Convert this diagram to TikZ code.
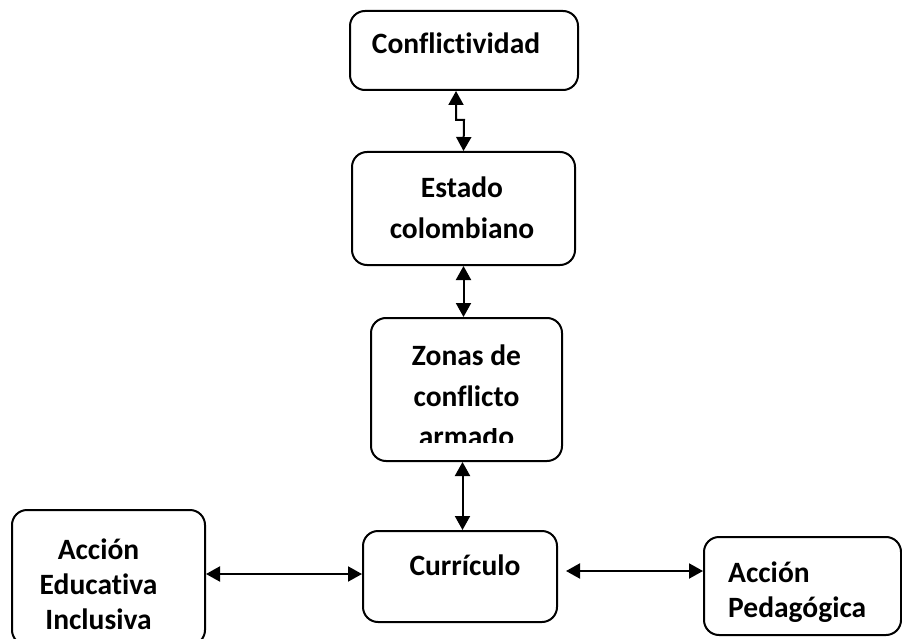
\documentclass[tikz,border=0pt]{standalone}
\usepackage{fontspec}
\setmainfont{Carlito}[Ligatures=NoCommon]
\usetikzlibrary{arrows.meta}
\begin{document}
\begin{tikzpicture}[x=1pt,y=-1pt,
  box/.style={draw=black,line width=2pt,rounded corners=15pt,inner sep=0pt,fill=white},
  txt/.style={font=\fontsize{29.5}{35}\selectfont\bfseries,inner sep=0pt,anchor=base},
  link/.style={line width=2pt,{Triangle[length=14pt,width=15pt]}-{Triangle[length=14pt,width=15pt]}}]
\clip (0,0) rectangle (902,639);
\fill[white] (0,0) rectangle (902,639);
% boxes
\node[box,minimum width=228pt,minimum height=79pt] (conf) at (464,50.5) {};
\node[box,minimum width=223pt,minimum height=113pt] (estado) at (463.5,208.5) {};
\node[box,minimum width=191pt,minimum height=143pt] (zonas) at (466.5,389.5) {};
\node[box,minimum width=194pt,minimum height=91pt] (curr) at (460,576.5) {};
\node[box,minimum width=193pt,minimum height=135pt] (aei) at (108.5,577.5) {};
\node[box,minimum width=197pt,minimum height=98pt] (ap) at (802.5,586) {};
% texts
\node[txt] (t1) at (456,54) {Conflictividad};
\node[txt] (t2) at (462,197) {Estado};
\node[txt] (t3) at (462,239) {colombiano};
\node[txt] (t4) at (466.5,365) {Zonas de};
\node[txt] (t5) at (466.5,406) {conflicto};
\begin{scope}
\clip (372,428) rectangle (560,442);
\node[txt] (t6) at (466.5,446) {armado};
\end{scope}
\node[txt] (t7) at (465,575) {Currículo};
\node[txt] (t8) at (98.5,559) {Acción};
\node[txt] (t9) at (98.5,594) {Educativa};
\node[txt] (t10) at (98.5,629) {Inclusiva};
\node[txt,anchor=base west] (t11) at (728,582) {Acción};
\node[txt,anchor=base west] (t12) at (728,617) {Pedagógica};
% connectors
\coordinate (s1) at (456,120);
\coordinate (s2) at (464,120);
\coordinate (zb) at ([xshift=-4pt]zonas.south);
\coordinate (ae) at ([yshift=3.5pt]aei.east);
\coordinate (ce) at ([shift={(8pt,5.5pt)}]curr.east);
\draw[link] ([xshift=-8pt]conf.south) -- (s1) -- (s2) -- (estado.north);
\draw[link] (estado.south) -- (zonas.north -| estado.south);
\draw[link] (zb) -- (curr.north -| zb);
\draw[link] (ae) -- (ae -| curr.west);
\draw[link] (ce) -- (ce -| ap.west);
\end{tikzpicture}
\end{document}
